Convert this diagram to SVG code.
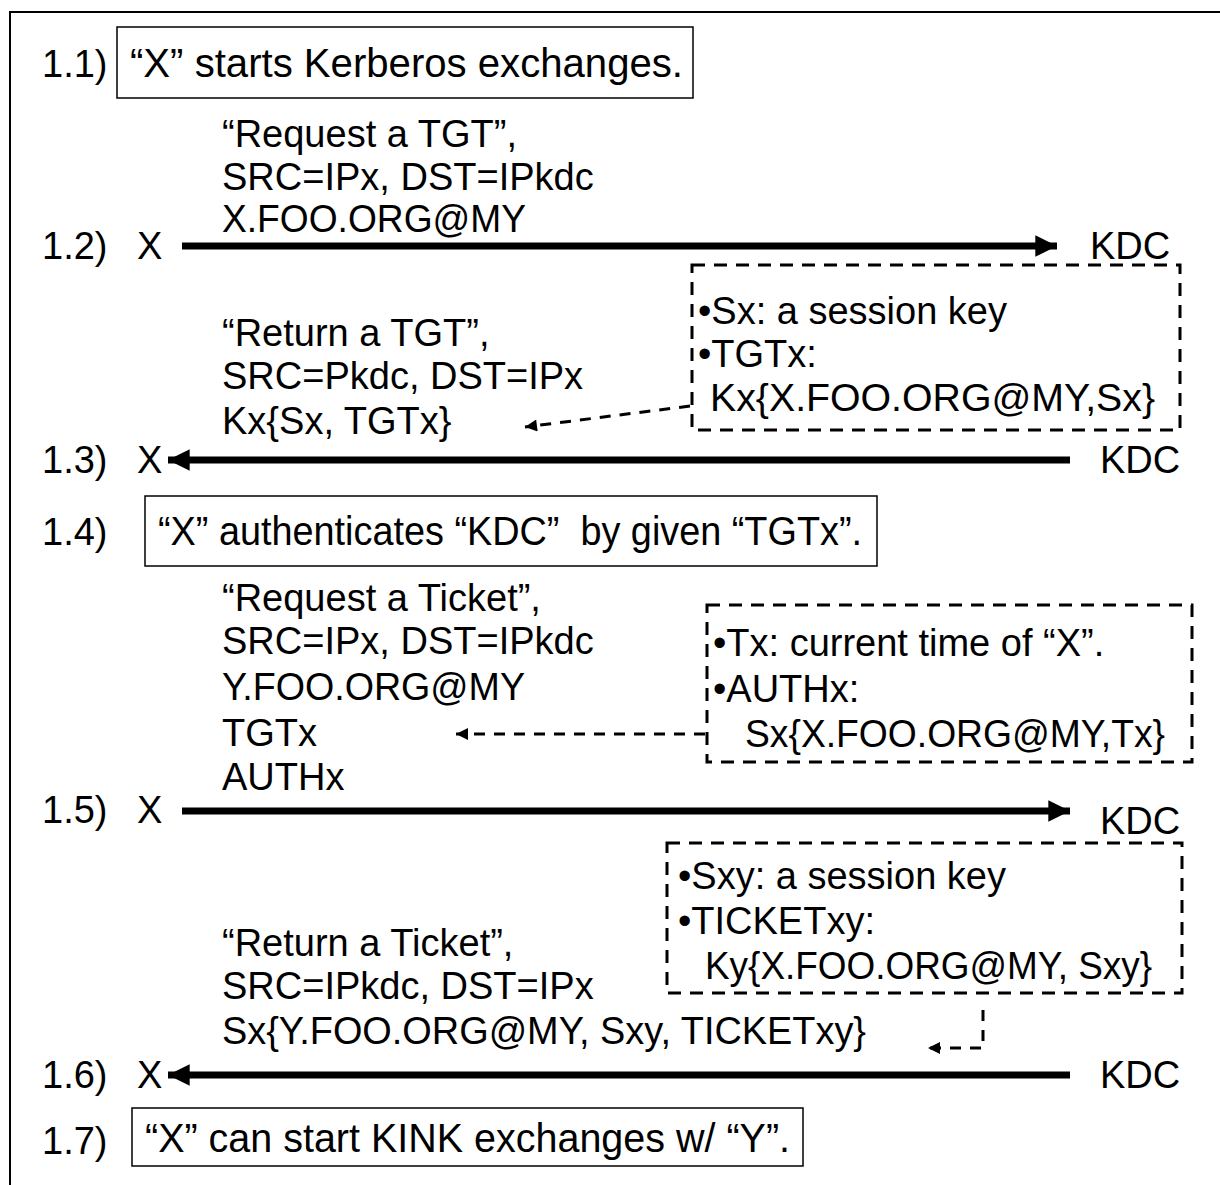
<svg xmlns="http://www.w3.org/2000/svg" width="1220" height="1185" viewBox="0 0 1220 1185">
<style>
text{font-family:"Liberation Sans",Arial,sans-serif;font-size:38px;fill:#000;white-space:pre}
.bt{font-size:40px}
.box{fill:#fff;stroke:#000;stroke-width:1.5}
.dbox{fill:none;stroke:#000;stroke-width:3;stroke-dasharray:13 9}
.arr{stroke:#000;stroke-width:7;fill:none}
.darr{stroke:#000;stroke-width:3;fill:none;stroke-dasharray:11 9}
</style>
<defs>
<marker id="ah" viewBox="0 0 10 10" refX="10" refY="5" markerWidth="3.6" markerHeight="3.1" orient="auto" markerUnits="strokeWidth"><path d="M0,0L10,5L0,10z" fill="#000"/></marker>
<marker id="dah" viewBox="0 0 10 10" refX="10" refY="5" markerWidth="4.5" markerHeight="4" orient="auto" markerUnits="strokeWidth"><path d="M0,0L10,5L0,10z" fill="#000"/></marker>
</defs>
<rect x="10" y="12" width="1230" height="1200" fill="#fff" stroke="#000" stroke-width="2"/>

<g id="step1-1">
<text x="42" y="77">1.1)</text>
<rect class="box" x="117" y="27" width="576" height="71"/>
<text class="bt" x="130" y="77" textLength="553" lengthAdjust="spacingAndGlyphs">“X” starts Kerberos exchanges.</text>
</g>

<g id="msg1">
<text x="222" y="147">“Request a TGT”,</text>
<text x="222" y="190">SRC=IPx, DST=IPkdc</text>
<text x="222" y="232" textLength="304" lengthAdjust="spacingAndGlyphs">X.FOO.ORG@MY</text>
</g>
<g id="step1-2">
<text x="42" y="259">1.2)</text>
<text x="137" y="259">X</text>
<text x="1090" y="259">KDC</text>
</g>

<g id="note1">
<rect class="dbox" x="692" y="265" width="488" height="165"/>
<text x="698" y="324">•Sx: a session key</text>
<text x="698" y="367">•TGTx:</text>
<text x="710" y="411" textLength="445" lengthAdjust="spacingAndGlyphs">Kx{X.FOO.ORG@MY,Sx}</text>
</g>

<g id="msg2">
<text x="222" y="346">“Return a TGT”,</text>
<text x="222" y="389">SRC=Pkdc, DST=IPx</text>
<text x="222" y="434">Kx{Sx, TGTx}</text>
</g>
<g id="step1-3">
<text x="42" y="473">1.3)</text>
<text x="137" y="473">X</text>
<text x="1100" y="473">KDC</text>
</g>

<g id="step1-4">
<text x="42" y="545">1.4)</text>
<rect class="box" x="145" y="496" width="732" height="70"/>
<text class="bt" x="158" y="545" textLength="704" lengthAdjust="spacingAndGlyphs">“X” authenticates “KDC”  by given “TGTx”.</text>
</g>

<g id="msg3">
<text x="222" y="611">“Request a Ticket”,</text>
<text x="222" y="654">SRC=IPx, DST=IPkdc</text>
<text x="222" y="700" textLength="303" lengthAdjust="spacingAndGlyphs">Y.FOO.ORG@MY</text>
<text x="222" y="746">TGTx</text>
<text x="222" y="790">AUTHx</text>
</g>

<g id="note2">
<rect class="dbox" x="707" y="605" width="485" height="157"/>
<text x="713" y="656">•Tx: current time of “X”.</text>
<text x="713" y="702">•AUTHx:</text>
<text x="745" y="747" textLength="420" lengthAdjust="spacingAndGlyphs">Sx{X.FOO.ORG@MY,Tx}</text>
</g>

<g id="step1-5">
<text x="42" y="823">1.5)</text>
<text x="137" y="823">X</text>
<text x="1100" y="834">KDC</text>
</g>

<g id="note3">
<rect class="dbox" x="667" y="843" width="515" height="150"/>
<text x="678" y="889">•Sxy: a session key</text>
<text x="678" y="934">•TICKETxy:</text>
<text x="705" y="979" textLength="447" lengthAdjust="spacingAndGlyphs">Ky{X.FOO.ORG@MY, Sxy}</text>
</g>

<g id="msg4">
<text x="222" y="956">“Return a Ticket”,</text>
<text x="222" y="999">SRC=IPkdc, DST=IPx</text>
<text x="222" y="1044" textLength="644" lengthAdjust="spacingAndGlyphs">Sx{Y.FOO.ORG@MY, Sxy, TICKETxy}</text>
</g>

<g id="step1-6">
<text x="42" y="1088">1.6)</text>
<text x="137" y="1088">X</text>
<text x="1100" y="1088">KDC</text>
</g>

<g id="step1-7">
<text x="42" y="1154">1.7)</text>
<rect class="box" x="132" y="1108" width="671" height="58"/>
<text class="bt" x="145" y="1152" textLength="645" lengthAdjust="spacingAndGlyphs">“X” can start KINK exchanges w/ “Y”.</text>
</g>

<g id="connectors">
<line class="arr" x1="182" y1="246" x2="1057" y2="246" marker-end="url(#ah)"/>
<line class="arr" x1="1070" y1="460" x2="168" y2="460" marker-end="url(#ah)"/>
<line class="arr" x1="182" y1="811" x2="1070" y2="811" marker-end="url(#ah)"/>
<line class="arr" x1="1070" y1="1075" x2="168" y2="1075" marker-end="url(#ah)"/>
<line class="darr" x1="690" y1="406" x2="525" y2="427" marker-end="url(#dah)"/>
<line class="darr" x1="705" y1="734" x2="456" y2="734" marker-end="url(#dah)"/>
<polyline class="darr" points="983,1010 983,1048 928,1048" marker-end="url(#dah)"/>
</g>
</svg>
